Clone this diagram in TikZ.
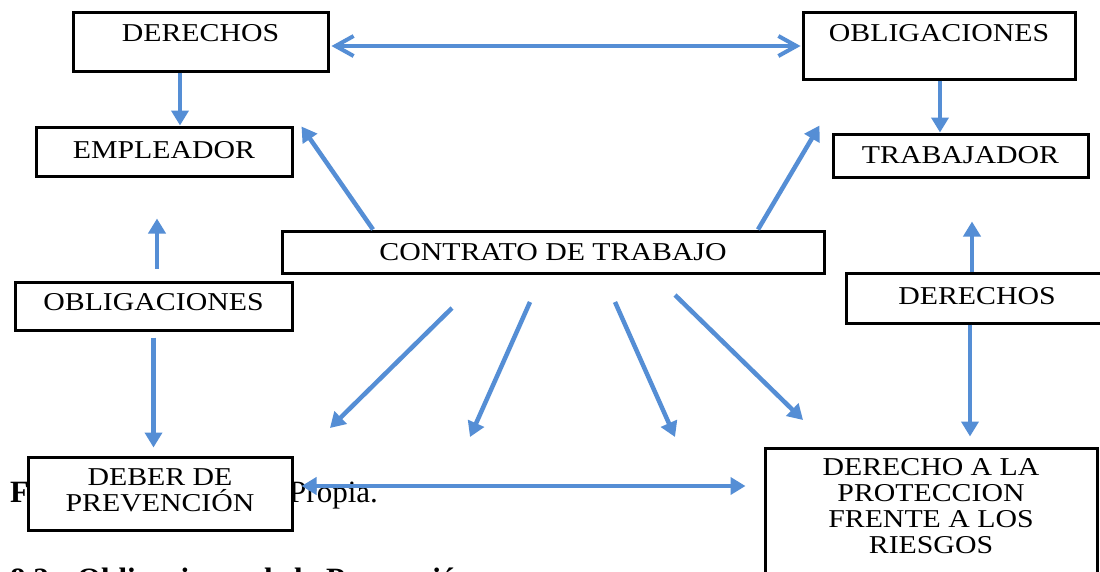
\documentclass[tikz,border=0pt]{standalone}
\usepackage{fontspec}
\setmainfont{Liberation Serif}
\newfontfamily\boxfont[FakeStretch=1.16]{Liberation Serif}
\usetikzlibrary{arrows.meta}
\definecolor{arrowblue}{RGB}{85,142,213}
\begin{document}
\begin{tikzpicture}[x=1pt,y=-1pt,
  box/.style={draw=black, line width=3pt, fill=white, inner sep=0pt},
  boxtxt/.style={font=\boxfont\fontsize{25.7}{26}\selectfont, inner sep=0pt, align=center},
  bodytxt/.style={font=\fontsize{31}{31}\selectfont, inner sep=0pt, anchor=base west},
  conn/.style={draw=arrowblue, line width=4.5pt, -{Triangle[length=15pt,width=17pt]}},
  dconn/.style={draw=arrowblue, line width=4.5pt, {Triangle[length=15pt,width=17pt]}-{Triangle[length=15pt,width=17pt]}},
  barbconn/.style={draw=arrowblue, line width=4pt, {Straight Barb[length=18pt,width=20pt]}-{Straight Barb[length=18pt,width=20pt]}},
]
\useasboundingbox (0,0) rectangle (1100,571);
\clip (0,0) rectangle (1100,571);
\fill[white] (0,0) rectangle (1100,571);

% text of the page behind the diagram (only the visible parts)
\node[bodytxt, font=\bfseries\fontsize{31}{31}\selectfont] (fuente) at (10,502) {F};
\node[bodytxt] (propia) at (289,502) {Propia.};
\node[bodytxt, font=\bfseries\fontsize{31}{31}\selectfont] (secnum) at (10,589) {8.2};
\node[bodytxt, font=\bfseries\fontsize{31}{31}\selectfont] (sectitle) at (77,589) {Obligaciones de la Prevención};

% boxes
\node[box, minimum width=255pt, minimum height=59pt,
  label={[boxtxt, yshift=8.5pt]center:DERECHOS}] (derL) at (200.5,41.5) {};
\node[box, minimum width=272pt, minimum height=67pt,
  label={[boxtxt, yshift=12.5pt]center:OBLIGACIONES}] (oblR) at (939,45.5) {};
\node[box, minimum width=256pt, minimum height=49pt,
  label={[boxtxt, yshift=1.5pt]center:EMPLEADOR}] (emp) at (164,151.5) {};
\node[box, minimum width=255pt, minimum height=43pt,
  label={[boxtxt]center:TRABAJADOR}] (trab) at (960.5,155.5) {};
\node[box, minimum width=542pt, minimum height=42pt,
  label={[boxtxt]center:CONTRATO DE TRABAJO}] (contrato) at (553,252) {};
\node[box, minimum width=277pt, minimum height=48pt,
  label={[boxtxt, yshift=4pt]center:OBLIGACIONES}] (oblL) at (153.5,306) {};
\node[box, minimum width=262pt, minimum height=50pt,
  label={[boxtxt, yshift=2pt]center:DERECHOS}] (derR) at (977,298) {};
\node[box, minimum width=264pt, minimum height=73pt,
  label={[boxtxt, yshift=3pt]center:DEBER DE\\PREVENCIÓN}] (deber) at (160,493.5) {};
\node[box, minimum width=332pt, minimum height=152pt,
  label={[boxtxt, yshift=18pt]center:DERECHO A LA\\PROTECCION\\FRENTE A LOS\\RIESGOS}] (prot) at (931,524) {};

% connectors
\draw[barbconn, shorten <=2pt, shorten >=1pt] ([yshift=-4.5pt]derL.east) -- ([yshift=-0.5pt]oblR.west);
\draw[conn] ([xshift=-20.5pt]derL.south) -- ([xshift=16pt]emp.north);
\draw[conn] ([xshift=1pt]oblR.south) -- ([xshift=1pt]oblR.south |- trab.north);
\draw[conn] ([xshift=-180pt]contrato.north) -- ([xshift=8pt,yshift=-1pt]emp.north east);
\draw[conn] ([xshift=205pt]contrato.north) -- ([xshift=-12pt,yshift=7pt]trab.north west);
\draw[conn, shorten <=12pt, shorten >=41pt] ([xshift=3.5pt]oblL.north) -- ([xshift=3.5pt]oblL.north |- emp.south);
\draw[conn, shorten <=6pt, shorten >=8pt] (oblL.south) -- (oblL.south |- deber.north);
\draw[conn, shorten >=43pt] ([xshift=-5pt]derR.north) -- ([xshift=-5pt]derR.north |- trab.south);
\draw[conn, shorten >=10pt] ([xshift=-7pt]derR.south) -- ([xshift=-7pt]derR.south |- prot.north);
\draw[dconn, shorten <=8pt, shorten >=18pt] ([yshift=7.5pt]deber.east) -- ([yshift=38pt]prot.west);

% fan from the contract
\coordinate (f1s) at (452,308);
\coordinate (f1e) at (330,428);
\coordinate (f2s) at (530,302);
\coordinate (f2e) at (470,437);
\coordinate (f3s) at (615,302);
\coordinate (f3e) at (675,437);
\coordinate (f4s) at (675,295);
\coordinate (f4e) at (803,420);
\draw[conn] (f1s) -- (f1e);
\draw[conn] (f2s) -- (f2e);
\draw[conn] (f3s) -- (f3e);
\draw[conn] (f4s) -- (f4e);
\end{tikzpicture}
\end{document}
